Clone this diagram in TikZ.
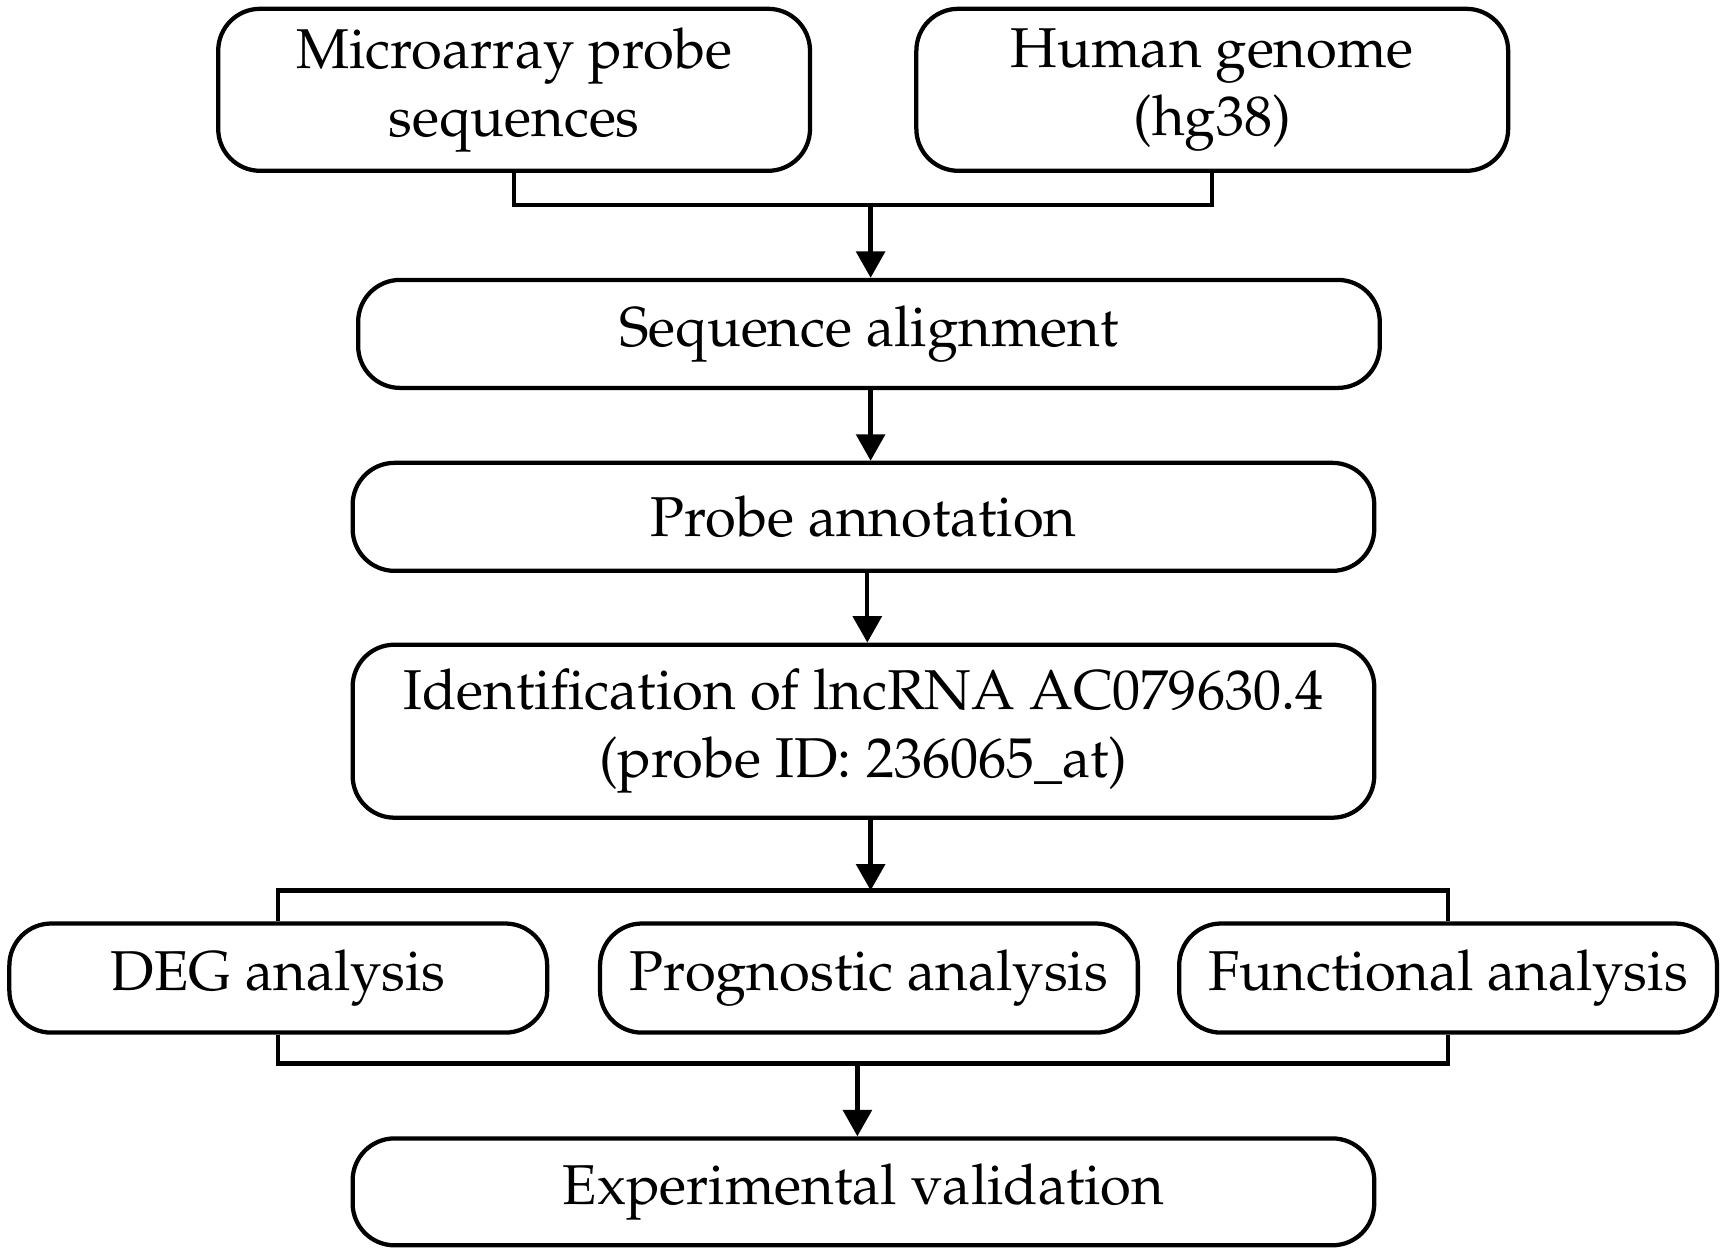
\documentclass[tikz,border=0pt]{standalone}
\usepackage[T1]{fontenc}
\usepackage{mathpazo}
\usetikzlibrary{arrows.meta}
\begin{document}
\begin{tikzpicture}[>={Triangle[length=0.24cm,width=0.26cm]},line width=1.1pt,
    stage/.style={draw,rounded corners=0.38cm,align=center,inner sep=0pt,
        font=\fontsize{14.5}{17.5}\selectfont},
    wide/.style={stage,minimum width=9.27cm,minimum height=0.98cm},
    half/.style={stage,minimum width=5.37cm,minimum height=1.47cm},
    branch/.style={stage,minimum width=4.88cm,minimum height=0.99cm}]
    \useasboundingbox (0,0) rectangle (15.68,-11.41);
    % inputs
    \node[half] (probes) at (4.665,-0.815) {Microarray probe\\sequences};
    \node[half] (genome) at (11.00,-0.815) {Human genome\\(hg38)};
    % main stages
    \node[wide] (align) at (7.885,-3.03) {Sequence alignment};
    \node[wide] (annot) at (7.835,-4.69) {Probe annotation};
    \node[wide,minimum height=1.57cm] (ident) at (7.835,-6.635)
        {Identification of lncRNA AC079630.4\\(probe ID: 236065\_at)};
    % analyses
    \node[branch] (deg)  at (2.525,-8.875) {DEG analysis};
    \node[branch] (prog) at (7.885,-8.875) {Prognostic analysis};
    \node[branch] (func) at (13.14,-8.875) {Functional analysis};
    \node[wide,minimum height=0.97cm] (valid) at (7.835,-10.815) {Experimental validation};
    % connectors
    \coordinate (merge) at (7.90,-1.86);
    \coordinate (split) at (7.90,-8.08);
    \coordinate (join)  at (7.78,-9.65);
    \draw (probes.south) |- (merge) -| (genome.south);
    \draw[->] (merge) -- (merge |- align.north);
    \draw[->] (align.south -| 7.90,0) -- (annot.north -| 7.90,0);
    \draw[->] (annot.south -| 7.87,0) -- (ident.north -| 7.87,0);
    \draw[->] (ident.south -| split) -- (split);
    \draw (deg.north) |- (split) -| (func.north);
    \draw (deg.south) |- (join) -| (func.south);
    \draw[->] (join) -- (join |- valid.north);
\end{tikzpicture}
\end{document}
